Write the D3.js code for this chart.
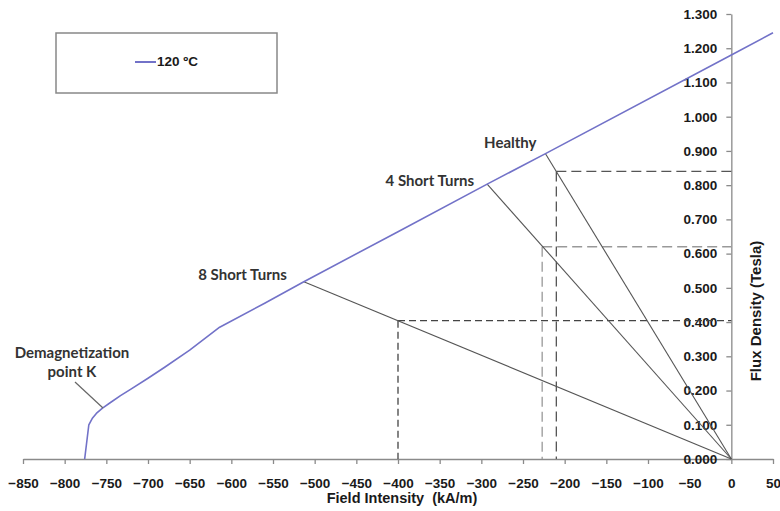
<!DOCTYPE html>
<html>
<head>
<meta charset="utf-8">
<script src="https://cdn.jsdelivr.net/npm/d3@7"></script>
<style>
  body { margin: 0; background: #fff; }
  svg { display: block; }
  .axis path, .axis line { stroke: #8a8a8a; stroke-width: 1.3; }
</style>
</head>
<body>
<svg id="chart"></svg>
<script>
const width = 780, height = 511;
const arialFont = "'Liberation Sans', Arial, Helvetica, sans-serif";
const noteFont = "Lato, 'Open Sans', sans-serif";

// B-H demagnetization curve at 120 C
const fieldH = [-776, -771, -767, -762, -755, -745, -733, -720, -700, -680, -650, -614, -560, -513, -400, -293, -223, 0, 50];
const fluxB  = [0, 0.10, 0.118, 0.133, 0.148, 0.165, 0.185, 0.205, 0.236, 0.268, 0.318, 0.385, 0.455, 0.518, 0.664, 0.803, 0.892, 1.18, 1.245];

// operating points (load line meets curve) and read-off points
const caseNames = ["Healthy", "4 Short Turns", "8 Short Turns"];
const opH = [-223, -293, -513];
const opB = [0.892, 0.803, 0.518];
const readH = [-210, -227, -400];
const readB = [0.84, 0.62, 0.404];

const xTicks = d3.range(-850, 51, 50);
const yTicks = d3.range(0, 14).map(i => i / 10);

const seriesName = "120 \u00baC";

// layout bits
const labelOffsets = [[-9, -6], [-13, 2], [-17, -2]];
const dashStyles = [
  { stroke: "#555", dash: "10,5" },
  { stroke: "#999", dash: "10,5" },
  { stroke: "#444", dash: "7,4" }
];

const svg = d3.select("#chart").attr("width", width).attr("height", height);

const x = d3.scaleLinear().domain([-850, 50]).range([23, 773]);
const y = d3.scaleLinear().domain([0, 1.3]).range([459, 14]);

// axes
const xAxis = svg.append("g")
    .attr("class", "axis")
    .attr("transform", `translate(0,${y(0)})`)
    .call(d3.axisBottom(x).tickValues(xTicks).tickFormat(d3.format("d"))
        .tickSize(5).tickSizeOuter(0).tickPadding(14));

const yAxis = svg.append("g")
    .attr("class", "axis")
    .attr("transform", `translate(${x(0)},0)`)
    .call(d3.axisLeft(y).tickValues(yTicks).tickFormat(d3.format(".3f"))
        .tickSize(5).tickSizeOuter(0).tickPadding(9));

[xAxis, yAxis].forEach(g => g
    .attr("font-family", arialFont)
    .attr("font-size", 13.5)
    .attr("font-weight", "bold")
    .selectAll(".tick text").attr("fill", "#1a1a1a"));

// axis titles
svg.append("text")
    .attr("x", 402).attr("y", 503)
    .attr("text-anchor", "middle")
    .attr("font-family", arialFont).attr("font-size", 14.5).attr("font-weight", "bold")
    .attr("fill", "#1a1a1a")
    .style("white-space", "pre")
    .text("Field Intensity  (kA/m)");

svg.append("text")
    .attr("transform", "translate(761,311) rotate(-90)")
    .attr("text-anchor", "middle")
    .attr("font-family", arialFont).attr("font-size", 15).attr("font-weight", "bold")
    .attr("fill", "#1a1a1a")
    .text("Flux Density (Tesla)");

// dashed read-off lines
caseNames.forEach((name, i) => {
    const g = svg.append("g")
        .attr("fill", "none")
        .attr("stroke", dashStyles[i].stroke)
        .attr("stroke-width", 1.3)
        .attr("stroke-dasharray", dashStyles[i].dash);
    g.append("line")
        .attr("x1", x(readH[i])).attr("y1", y(readB[i]))
        .attr("x2", x(0)).attr("y2", y(readB[i]));
    g.append("line")
        .attr("x1", x(readH[i])).attr("y1", y(readB[i]))
        .attr("x2", x(readH[i])).attr("y2", y(0));
});

// load lines from origin to operating points
svg.append("g")
    .selectAll("line")
    .data(caseNames)
    .join("line")
    .attr("x1", x(0)).attr("y1", y(0))
    .attr("x2", (d, i) => x(opH[i]))
    .attr("y2", (d, i) => y(opB[i]))
    .attr("stroke", "#555")
    .attr("stroke-width", 1.1);

// curve
const pts = fieldH.map((h, i) => [h, fluxB[i]]);
const line = d3.line().x(d => x(d[0])).y(d => y(d[1]));
svg.append("path")
    .datum(pts)
    .attr("fill", "none")
    .attr("stroke", "#7272c8")
    .attr("stroke-width", 1.6)
    .attr("stroke-linejoin", "round")
    .attr("d", line);

// case labels
svg.append("g")
    .attr("font-family", noteFont).attr("font-size", 15).attr("font-weight", "bold")
    .attr("fill", "#333")
    .selectAll("text")
    .data(caseNames)
    .join("text")
    .attr("text-anchor", "end")
    .attr("x", (d, i) => x(opH[i]) + labelOffsets[i][0])
    .attr("y", (d, i) => y(opB[i]) + labelOffsets[i][1])
    .text(d => d);

// demagnetization point annotation
const kH = -754, kB = 0.149;
svg.append("line")
    .attr("x1", x(kH) - 28).attr("y1", y(kB) - 26)
    .attr("x2", x(kH)).attr("y2", y(kB))
    .attr("stroke", "#666").attr("stroke-width", 1.2);
const kText = svg.append("text")
    .attr("font-family", noteFont).attr("font-size", 15).attr("font-weight", "bold")
    .attr("fill", "#333")
    .attr("text-anchor", "middle");
kText.append("tspan").attr("x", 72).attr("y", 358).text("Demagnetization");
kText.append("tspan").attr("x", 72).attr("y", 377).text("point K");

// legend
const legend = svg.append("g");
legend.append("rect")
    .attr("x", 56).attr("y", 33).attr("width", 221).attr("height", 60)
    .attr("fill", "#fff").attr("stroke", "#888").attr("stroke-width", 1.5);
legend.append("line")
    .attr("x1", 135).attr("x2", 156).attr("y1", 62).attr("y2", 62)
    .attr("stroke", "#7272c8").attr("stroke-width", 2);
legend.append("text")
    .attr("x", 157).attr("y", 66)
    .attr("font-family", arialFont)
    .attr("font-weight", "bold").attr("font-size", 13.5)
    .attr("fill", "#1a1a1a")
    .text(seriesName);
</script>
</body>
</html>
